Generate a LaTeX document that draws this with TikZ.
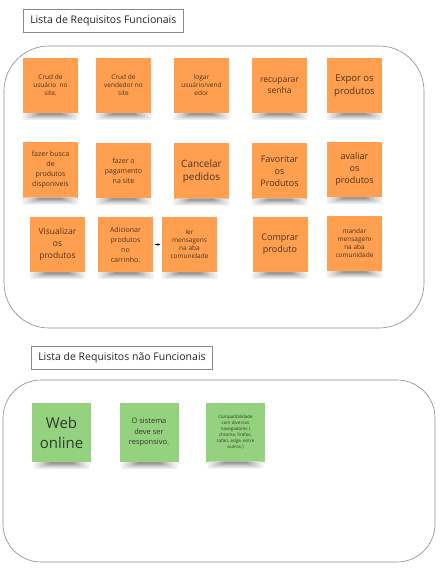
\documentclass[tikz,border=0pt]{standalone}
\usepackage{fontspec}
\setmainfont{Open Sans}
\usetikzlibrary{arrows.meta}
\definecolor{notaLaranja}{HTML}{FF9F4F}
\definecolor{notaVerde}{HTML}{94D27F}
\definecolor{textoLaranja}{HTML}{4E3522}
\definecolor{textoVerde}{HTML}{2F3B2C}
\definecolor{bordaCinza}{HTML}{8A8A8A}
\tikzset{
	nota/.style={fill=notaLaranja, text=textoLaranja, minimum width=55pt, minimum height=55pt, inner sep=1pt, align=center, font=\fontsize{6.5}{8}\selectfont},
	notaverde/.style={nota, fill=notaVerde, text=textoVerde, minimum width=59pt, minimum height=59pt},
	grupo/.style={draw=bordaCinza, line width=.6pt},
	titulo/.style={draw=bordaCinza, fill=white, line width=.5pt, inner xsep=7pt, minimum height=23pt, font=\fontsize{10.5}{12}\selectfont, text=black!85}
}
\begin{document}
\begin{tikzpicture}[x=1pt, y=-1pt]
	\useasboundingbox (0,0) rectangle (441,572);
	% requisitos funcionais
	\draw[grupo, rounded corners=45pt] (4,46) rectangle (424,328);
	\node[titulo, anchor=west] (tituloRF) at (23,20.5) {Lista de Requisitos Funcionais};
	\node[nota] (crudUsuario) at (50.5,85.5) {Crud de\\usuário \ no\\site.};
	\node[nota] (crudVendedor) at (123.5,85.5) {Crud de\\vendedor no\\site};
	\node[nota] (logar) at (201.5,85.5) {logar\\usuário/vend\\edor};
	\node[nota, font=\fontsize{8.5}{11}\selectfont] (recuperar) at (279.5,85.5) {recuparar\\senha};
	\node[nota, font=\fontsize{9.5}{13}\selectfont] (expor) at (354.5,85.5) {Expor os\\produtos};
	\node[nota, font=\fontsize{7}{10}\selectfont] (busca) at (50.5,170) {fazer busca\\de\\produtos\\disponiveis};
	\node[nota, font=\fontsize{7}{10}\selectfont] (pagamento) at (123.5,170.5) {fazer o\\pagamento\\na site};
	\node[nota, font=\fontsize{10}{13}\selectfont] (cancelar) at (201.5,171) {Cancelar\\pedidos};
	\node[nota, font=\fontsize{9}{12}\selectfont] (favoritar) at (279.5,171) {Favoritar\\os\\Produtos};
	\node[nota, font=\fontsize{9}{12}\selectfont] (avaliar) at (354.5,169.5) {avaliar\\os\\produtos};
	\node[nota, font=\fontsize{8.5}{12}\selectfont] (visualizar) at (57.5,244.5) {Visualizar\\os\\produtos};
	\node[nota, font=\fontsize{7}{10}\selectfont] (carrinho) at (125.5,244.5) {Adicionar\\produtos\\no\\carrinho.};
	\node[nota, font=\fontsize{6.5}{8}\selectfont] (lerMensagens) at (189.5,244.5) {ler\\mensagens\\na aba\\comunidade};
	\node[nota, font=\fontsize{9}{12}\selectfont] (comprar) at (280,244.5) {Comprar\\produto};
	\node[nota, font=\fontsize{6.5}{8}\selectfont] (mandarMensagem) at (354.5,243.5) {mandar\\mensagem\\na aba\\comunidade};
	\draw[-{Stealth[length=3pt, width=2.5pt]}, line width=.4pt, shorten <=2pt, shorten >=1.5pt] (carrinho) -- (lerMensagens);
	% requisitos nao funcionais
	\draw[grupo, rounded corners=38pt] (3,380) rectangle (435,562);
	\node[titulo, anchor=west] (tituloRNF) at (31,357.5) {Lista de Requisitos não Funcionais};
	\node[notaverde, font=\fontsize{15}{20}\selectfont] (webOnline) at (61.5,432.5) {Web\\online};
	\node[notaverde, font=\fontsize{7.5}{10.5}\selectfont] (responsivo) at (149,432.5) {O sistema\\deve ser\\responsivo.};
	\node[notaverde, font=\fontsize{4.5}{6}\selectfont] (compatibilidade) at (235.5,432) {Compatibilidade\\com diversos\\navegadores (\\chrome, firefox,\\safari, edge, entre\\outros.)};
	% sombras
	\foreach \nota in {crudUsuario,crudVendedor,logar,recuperar,expor,busca,pagamento,cancelar,favoritar,avaliar,visualizar,carrinho,lerMensagens,comprar,mandarMensagem,webOnline,responsivo,compatibilidade}
		\foreach \c/\w/\h in {6/28pt/7pt,11/25pt/6pt,17/22pt/5pt,24/19pt/4pt,32/16pt/3pt,40/13pt/2pt}
			\fill[black!\c, rounded corners=1.5pt] ([xshift=-\w]\nota.south) rectangle ([xshift=\w, yshift=-\h]\nota.south);
\end{tikzpicture}
\end{document}
